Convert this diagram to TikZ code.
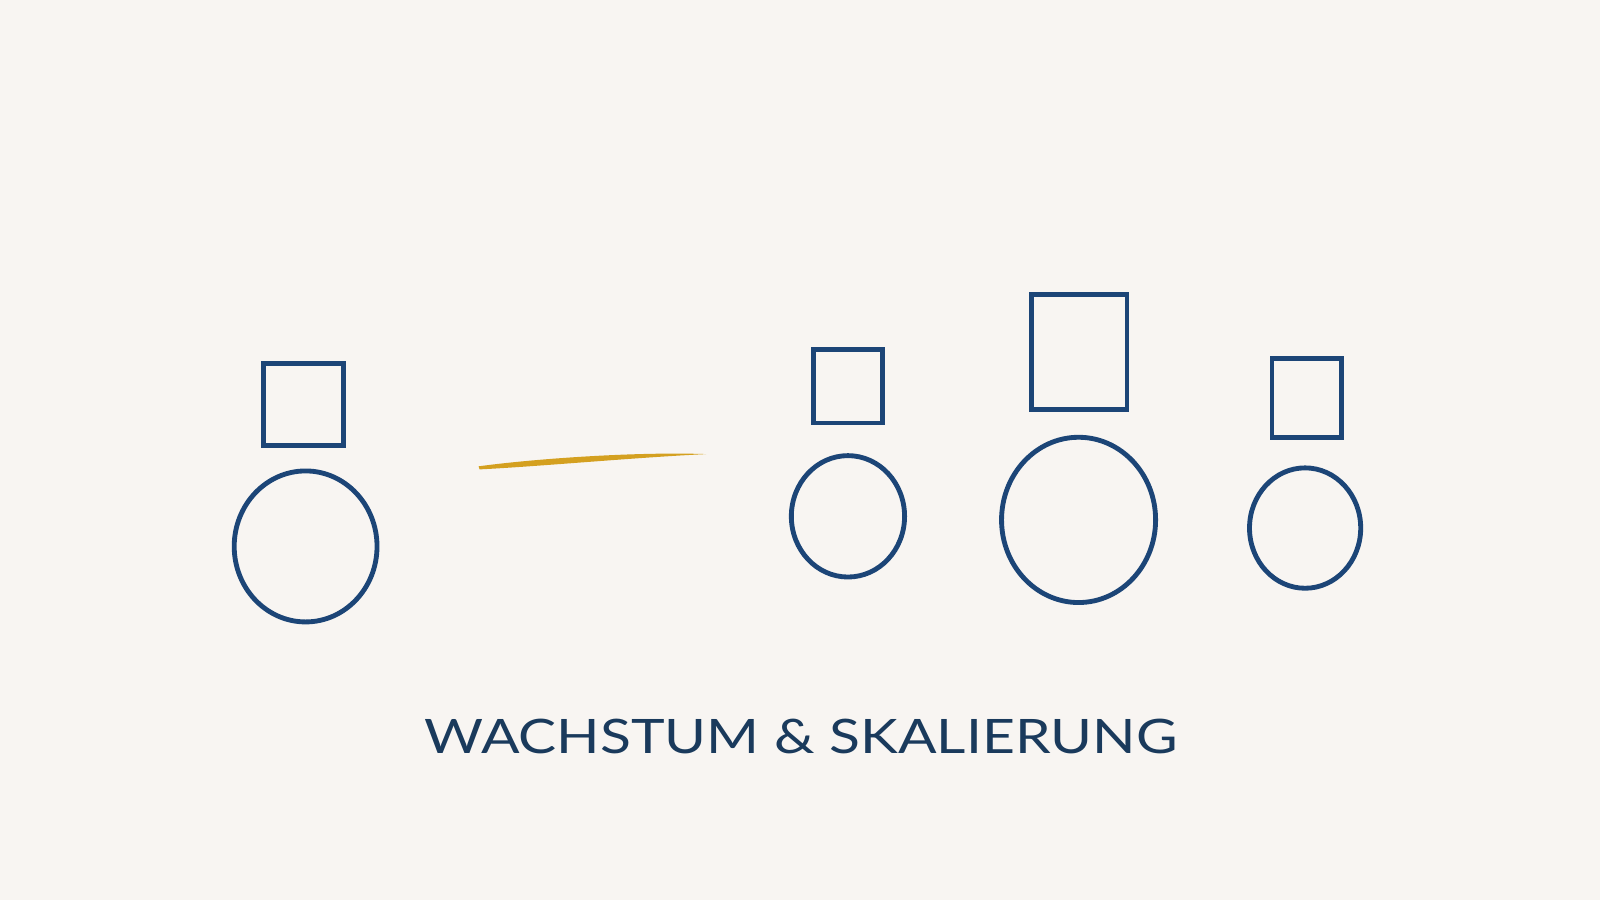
\documentclass[tikz,border=0pt]{standalone}
\usepackage{fontspec}
\setmainfont{Lato}
\usepackage{tikz}
\usetikzlibrary{shapes.geometric}
\definecolor{fondo}{HTML}{F8F5F2}
\definecolor{azul}{HTML}{1C4577}
\definecolor{tinta}{HTML}{1A3A5C}
\definecolor{oro}{HTML}{D4A020}

\begin{document}
\begin{tikzpicture}[x=0.02cm, y=-0.02cm,
    caja/.style = {draw=azul, line width=2.7pt, inner sep=0pt},
    rueda/.style = {ellipse, draw=azul, line width=2.7pt, inner sep=0pt}]
    % Fondo
    \fill[fondo] (0,0) rectangle (1568,882);
    \useasboundingbox (0,0) rectangle (1568,882);
    % Grupo inicial
    \node[caja, minimum width=1.56cm, minimum height=1.6cm] (caja1) at (297.5,396.5) {};
    \node[rueda, minimum width=2.8cm, minimum height=2.96cm] (rueda1) at (299.5,535.5) {};
    % Trazo dorado
    \coordinate (ini) at (469,457);
    \coordinate (fin) at (692,445);
    \fill[oro] (ini) .. controls (520,450) and (620,442.5) .. (fin)
               .. controls (620,448.5) and (530,457) .. (470,460) -- cycle;
    % Grupos escalados
    \node[caja, minimum width=1.34cm, minimum height=1.44cm] (caja2) at (831,378.5) {};
    \node[rueda, minimum width=2.22cm, minimum height=2.38cm] (rueda2) at (831,506) {};
    \node[caja, minimum width=1.88cm, minimum height=2.26cm] (caja3) at (1057.5,345) {};
    \node[rueda, minimum width=3.02cm, minimum height=3.24cm] (rueda3) at (1057,509.5) {};
    \node[caja, minimum width=1.36cm, minimum height=1.54cm] (caja4) at (1280.5,390) {};
    \node[rueda, minimum width=2.18cm, minimum height=2.36cm] (rueda4) at (1279,517.5) {};
    % Titulo
    \node[text=tinta, xscale=1.2, font=\fontsize{26.5}{30}\selectfont] (titulo) at (785,722) {WACHSTUM \& SKALIERUNG};
\end{tikzpicture}
\end{document}
